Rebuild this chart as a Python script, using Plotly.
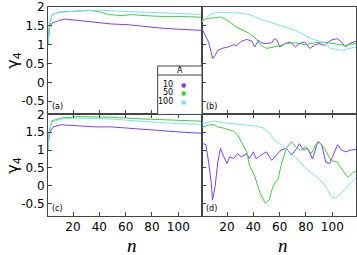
import plotly.graph_objects as go
from plotly.subplots import make_subplots

# ---- data ----
A_values = [10, 50, 100]
colors = ["#7f3ff0", "#3fcf3f", "#80dcfa"]
x_ticks = [20, 40, 60, 80, 100]
y_ticks = [-0.5, 0, 0.5, 1, 1.5, 2]
y_tick_labels = ["-0.5", "0", "0.5", "1", "1.5", "2"]
panel_labels = ["(a)", "(b)", "(c)", "(d)"]

# panel (a)
a_n_10 = [1, 2, 4, 9, 14, 24, 37, 49, 62, 75, 87, 100, 110, 118]
a_v_10 = [1.0, 1.44, 1.57, 1.64, 1.68, 1.64, 1.59, 1.55, 1.53, 1.48, 1.44, 1.41, 1.39, 1.38]
a_n_50 = [1, 2, 4, 9, 19, 32, 39, 47, 57, 65, 75, 87, 100, 118]
a_v_50 = [1.0, 1.5, 1.79, 1.86, 1.88, 1.91, 1.88, 1.80, 1.77, 1.80, 1.77, 1.75, 1.75, 1.73]
a_n_100 = [1, 2, 4, 9, 20, 40, 60, 80, 100, 118]
a_v_100 = [1.0, 1.45, 1.79, 1.86, 1.89, 1.92, 1.88, 1.86, 1.83, 1.80]

# panel (b)
b_n_10 = [1, 2, 6, 8, 9, 11, 13, 17, 21, 25, 27, 31, 35, 39, 41, 44, 46, 50, 54, 56, 58, 60,
          64, 68, 72, 75, 79, 83, 87, 90, 94, 99, 104, 107, 110, 113, 118]
b_v_10 = [1.42, 1.34, 1.07, 0.80, 0.63, 0.72, 0.85, 0.91, 0.94, 1.0, 0.97, 1.09, 1.14, 1.09, 0.94,
          1.12, 1.05, 1.03, 1.05, 1.16, 1.12, 0.94, 1.03, 1.07, 0.94, 1.03, 1.07, 0.90, 1.0, 1.03,
          0.98, 1.12, 1.16, 1.07, 0.94, 1.03, 1.09]
b_n_50 = [1, 5, 10, 15, 17, 22, 27, 32, 37, 42, 46, 50, 55, 60, 64, 72, 79, 87, 94, 102, 109, 118]
b_v_50 = [1.65, 1.70, 1.71, 1.74, 1.71, 1.61, 1.47, 1.38, 1.30, 1.16, 0.98, 0.90, 0.94, 0.97,
          1.03, 1.05, 1.0, 1.05, 1.07, 1.03, 0.98, 1.03]
b_n_100 = [1, 2, 5, 7, 9, 15, 25, 37, 45, 56, 64, 72, 79, 84, 92, 99, 107, 114, 118]
b_v_100 = [1.6, 1.65, 1.74, 1.80, 1.83, 1.86, 1.86, 1.80, 1.68, 1.56, 1.47, 1.38, 1.25, 1.16,
           1.07, 0.90, 0.85, 0.90, 0.94]

# panel (c)
c_n_10 = [1, 2, 5, 11, 24, 37, 49, 62, 75, 87, 100, 118]
c_v_10 = [1.0, 1.48, 1.65, 1.71, 1.68, 1.65, 1.65, 1.61, 1.58, 1.53, 1.51, 1.47]
c_n_50 = [1, 2, 4, 11, 24, 49, 75, 100, 118]
c_v_50 = [1.0, 1.55, 1.82, 1.90, 1.94, 1.92, 1.87, 1.84, 1.81]
c_n_100 = [1, 2, 4, 11, 24, 49, 75, 100, 118]
c_v_100 = [1.0, 1.5, 1.79, 1.87, 1.90, 1.87, 1.80, 1.74, 1.72]

# panel (d)
d_n_10 = [1, 4, 6, 8, 9, 11, 13, 15, 17, 20, 22, 25, 28, 31, 35, 37, 40, 42, 46, 50, 54, 58,
          61, 65, 69, 73, 75, 78, 81, 85, 89, 92, 95, 98, 102, 104, 107, 110, 114, 118]
d_v_10 = [1.19, 1.15, 0.66, 0.09, -0.40, -0.01, 0.66, 1.05, 0.86, 0.62, 0.81, 0.76, 0.90, 0.81,
          0.90, 0.76, 0.95, 0.76, 0.86, 0.95, 0.71, 0.88, 1.0, 1.05, 0.86, 1.05, 1.18, 1.0, 1.05,
          0.76, 1.24, 1.15, 0.66, 0.62, 0.95, 1.15, 1.0, 0.95, 1.0, 1.02]
d_n_50 = [1, 6, 10, 13, 18, 25, 28, 31, 35, 37, 41, 45, 49, 52, 55, 59, 61, 65, 69, 73, 76, 80,
          84, 88, 90, 94, 99, 104, 108, 112, 116, 118]
d_v_50 = [1.63, 1.71, 1.71, 1.65, 1.61, 1.53, 1.43, 1.24, 0.95, 0.57, 0.28, -0.20, -0.49, -0.40,
          -0.01, 0.20, 0.57, 1.05, 1.24, 1.05, 1.0, 1.10, 0.90, 1.19, 1.22, 1.05, 0.71, 0.66,
          0.42, 0.23, 0.38, 0.40]
d_n_100 = [1, 5, 10, 17, 25, 32, 40, 47, 52, 57, 60, 64, 72, 79, 87, 94, 99, 102, 107, 113, 118]
d_v_100 = [1.73, 1.77, 1.82, 1.77, 1.74, 1.73, 1.68, 1.63, 1.48, 1.24, 1.19, 1.05, 0.81, 0.52,
           0.28, 0.04, -0.30, -0.35, -0.20, 0.04, 0.23]

panels = [
    (1, 1, [(a_n_10, a_v_10), (a_n_50, a_v_50), (a_n_100, a_v_100)]),
    (1, 2, [(b_n_10, b_v_10), (b_n_50, b_v_50), (b_n_100, b_v_100)]),
    (2, 1, [(c_n_10, c_v_10), (c_n_50, c_v_50), (c_n_100, c_v_100)]),
    (2, 2, [(d_n_10, d_v_10), (d_n_50, d_v_50), (d_n_100, d_v_100)]),
]

fig = make_subplots(rows=2, cols=2, horizontal_spacing=0, vertical_spacing=0)

for row, col, series in panels:
    for (n, v), color, a in zip(series, colors, A_values):
        fig.add_trace(go.Scatter(x=n, y=v, mode="lines", name=str(a),
                                 line=dict(color=color, width=1), showlegend=False),
                      row=row, col=col)

AX = "#444444"
TICKFONT = dict(family="DejaVu Sans", size=12, color="black")
split = 0.486

for i, (row, col, _) in enumerate(panels):
    k = "" if i == 0 else str(i + 1)
    xd = [0, 0.5] if col == 1 else [0.5, 1]
    yd = [split, 1] if row == 1 else [0, split]
    xa = dict(domain=xd, range=[1, 118], tickvals=x_ticks, ticks="inside", ticklen=4,
              tickcolor=AX, showline=True, linecolor=AX, linewidth=1, showgrid=False,
              zeroline=False, tickfont=TICKFONT, automargin=False,
              showticklabels=(row == 2), mirror=(True if row == 1 else "ticks"))
    ya = dict(domain=yd, range=[-0.85, 2.0], tickvals=y_ticks, ticktext=y_tick_labels,
              ticks="inside", ticklen=4, tickcolor=AX, showline=True, linecolor=AX,
              linewidth=1, showgrid=False, zeroline=False, tickfont=TICKFONT,
              automargin=False, showticklabels=(col == 1), mirror=True)
    fig.layout["xaxis" + k].update(xa)
    fig.layout["yaxis" + k].update(ya)
    fig.add_annotation(text=panel_labels[i], xref="x%s domain" % k, yref="y%s domain" % k,
                       x=0.01, y=0.01, xanchor="left", yanchor="bottom", showarrow=False,
                       font=dict(family="DejaVu Sans", size=8, color="black"))

# axis titles
for xp in [0.272, 0.763]:
    fig.add_annotation(text="<i>n</i>", xref="paper", yref="paper", x=xp, y=-0.1435,
                       xanchor="center", yanchor="middle", showarrow=False,
                       font=dict(family="Liberation Serif", size=19, color="black"))
for yp in [0.744, 0.2416]:
    fig.add_annotation(text="γ<sub>4</sub>", xref="paper", yref="paper", x=-0.113, y=yp,
                       xanchor="center", yanchor="middle", textangle=-90, showarrow=False,
                       font=dict(family="DejaVu Sans", size=16, color="black"))

# legend box inside panel (a)
box_l, box_t, sep_y = 0.712, 0.451, 0.367
fig.add_shape(type="rect", xref="x domain", yref="y domain", x0=box_l, x1=1, y0=0, y1=box_t,
              line=dict(color=AX, width=1), fillcolor="white", layer="above")
fig.add_shape(type="line", xref="x domain", yref="y domain", x0=box_l, x1=1, y0=sep_y, y1=sep_y,
              line=dict(color=AX, width=1), layer="above")
fig.add_annotation(text="A", xref="x domain", yref="y domain", x=(box_l + 1) / 2, y=0.407,
                   xanchor="center", yanchor="middle", showarrow=False,
                   font=dict(family="DejaVu Sans", size=8, color="black"))
entry_y = [0.283, 0.203, 0.118]
for a, color, ey in zip(A_values, colors, entry_y):
    fig.add_annotation(text=str(a), xref="x domain", yref="y domain", x=0.826, y=ey,
                       xanchor="right", yanchor="middle", showarrow=False,
                       font=dict(family="DejaVu Sans", size=8, color="black"))
    fig.add_annotation(text="●", xref="x domain", yref="y domain", x=0.877, y=ey,
                       xanchor="center", yanchor="middle", showarrow=False,
                       font=dict(family="DejaVu Sans", size=6, color=color))

fig.update_layout(template="none", width=357, height=255,
                  margin=dict(l=48, r=1, t=7, b=39),
                  plot_bgcolor="white", paper_bgcolor="white", showlegend=False)

fig.write_html("out.html", config={"displayModeBar": False},
               post_script="document.body.style.margin='0px';")
